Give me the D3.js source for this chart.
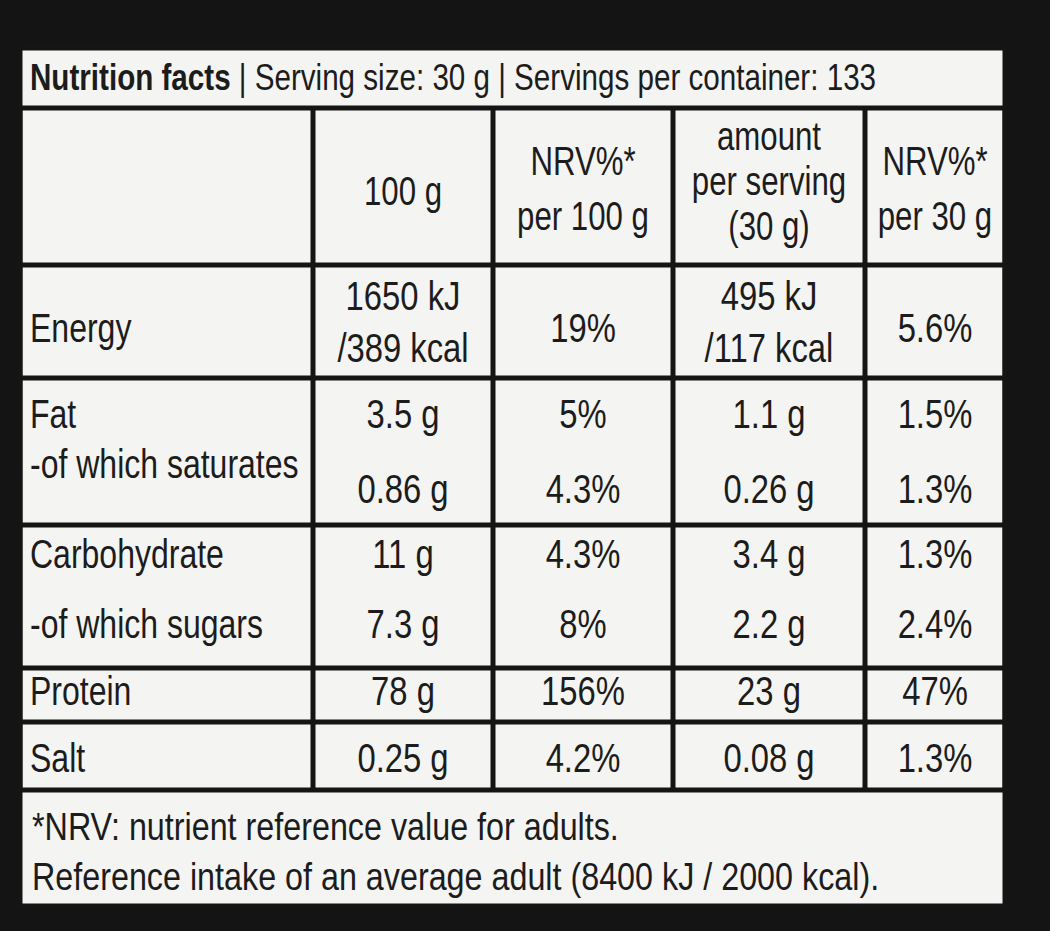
<!DOCTYPE html>
<html><head><meta charset="utf-8">
<script src="https://cdn.jsdelivr.net/npm/d3@7"></script>
<style>body{margin:0;background:#111}</style>
</head><body>
<script>
// label content
const title = ["Nutrition facts", " | Serving size: 30 g | Servings per container: 133"];
const headers = [[], ["100 g"], ["NRV%*", "per 100 g"], ["amount", "per serving", "(30 g)"], ["NRV%*", "per 30 g"]];
const nutrients = ["Energy", "Fat", "-of which saturates", "Carbohydrate", "-of which sugars", "Protein", "Salt"];
const per100 = [["1650 kJ", "/389 kcal"], ["3.5 g"], ["0.86 g"], ["11 g"], ["7.3 g"], ["78 g"], ["0.25 g"]];
const nrv100 = [["19%"], ["5%"], ["4.3%"], ["4.3%"], ["8%"], ["156%"], ["4.2%"]];
const perServing = [["495 kJ", "/117 kcal"], ["1.1 g"], ["0.26 g"], ["3.4 g"], ["2.2 g"], ["23 g"], ["0.08 g"]];
const nrv30 = [["5.6%"], ["1.5%"], ["1.3%"], ["1.3%"], ["2.4%"], ["47%"], ["1.3%"]];
const footnote = ["*NRV: nutrient reference value for adults.", "Reference intake of an average adult (8400 kJ / 2000 kcal)."];

const W = 1050, H = 931;
const font = "'Liberation Sans Narrow','Liberation Sans',Arial,sans-serif";
const squeeze = 0.8;
const svg = d3.select("body").append("svg").attr("width", W).attr("height", H);
svg.append("rect").attr("width", W).attr("height", H).attr("fill", "#141414");

const colEdges = [20, 313, 493, 673, 865, 1005];
const colCenter = i => (colEdges[i] + colEdges[i + 1]) / 2;
const hLines = [108, 265, 378, 525, 668, 722, 790];
const labelY = [342, 428, 478, 568, 638, 705, 772];
const valueY = [[310, 362], [428], [503], [568], [638], [705], [772]];
const singleY = [342, 428, 503, 568, 638, 705, 772];

svg.append("rect").attr("x", 20).attr("y", 48).attr("width", 985).attr("height", 858).attr("fill", "#f4f4f2");

const ink = "#1c1c1c";
const txt = (x, y, s, size, anchor, sq) => svg.append("text")
  .attr("transform", `translate(${x},${y}) scale(${sq || squeeze},1)`)
  .attr("text-anchor", anchor || "middle")
  .attr("font-family", font).attr("font-size", size)
  .attr("fill", ink).text(s);

const t = svg.append("text").attr("transform", `translate(30,90) scale(0.8,1)`)
  .attr("font-family", font).attr("font-size", 37).attr("fill", ink);
t.append("tspan").attr("font-weight", "bold").text(title[0]);
t.append("tspan").text(title[1]);

// grid
const g = svg.append("g").attr("stroke", "#151515").attr("stroke-width", 5);
hLines.forEach(y => g.append("line").attr("x1", 20).attr("x2", 1005).attr("y1", y).attr("y2", y));
colEdges.forEach(x => g.append("line").attr("x1", x).attr("x2", x).attr("y1", 108).attr("y2", 790));
g.append("rect").attr("x", 20).attr("y", 48).attr("width", 985).attr("height", 858).attr("fill", "none");

// headers
const headY = {1: [205], 2: [175, 230], 3: [150, 195, 240], 4: [175, 230]};
headers.forEach((h, i) => h.forEach((s, j) => txt(colCenter(i), headY[i][j], s, 40, "middle", 0.78)));

// body
const cols = [per100, nrv100, perServing, nrv30];
nutrients.forEach((n, r) => {
  txt(30, labelY[r], n, 40, "start", 0.8);
  cols.forEach((c, ci) => c[r].forEach((s, j) =>
    txt(colCenter(ci + 1), c[r].length > 1 ? valueY[r][j] : singleY[r], s, 41)));
});

footnote.forEach((s, i) => txt(32, 840 + i * 50, s, 38, "start", 0.85));
</script>
</body></html>
